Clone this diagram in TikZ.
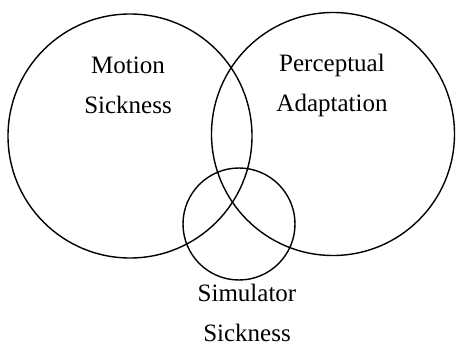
\documentclass[tikz,border=0pt]{standalone}
\usepackage{fontspec}
\setmainfont{Liberation Serif}
\usepackage{tikz}
\usetikzlibrary{positioning}

\begin{document}
\begin{tikzpicture}[
    x=1pt,y=1pt,
    set/.style={circle,draw=black,line width=1.4pt,inner sep=0pt},
    lbl/.style={align=center,font=\fontsize{25}{40}\selectfont,inner sep=0pt}
  ]
  \useasboundingbox (0,0) rectangle (456,349);
  %% the three sets
  \node[set,minimum size=244pt] (motion) at (130,213) {};
  \node[set,minimum size=243pt] (percept) at (333,215) {};
  \node[set,minimum size=112pt] (simul) at (239,125) {};
  %% labels
  \node[lbl] (motionlbl) at (128,264) {Motion\\Sickness};
  \node[lbl] (perceptlbl) at (332,264) {Perceptual\\Adaptation};
  \node[lbl] (simullbl) at (247,36) {Simulator\\Sickness};
\end{tikzpicture}
\end{document}
